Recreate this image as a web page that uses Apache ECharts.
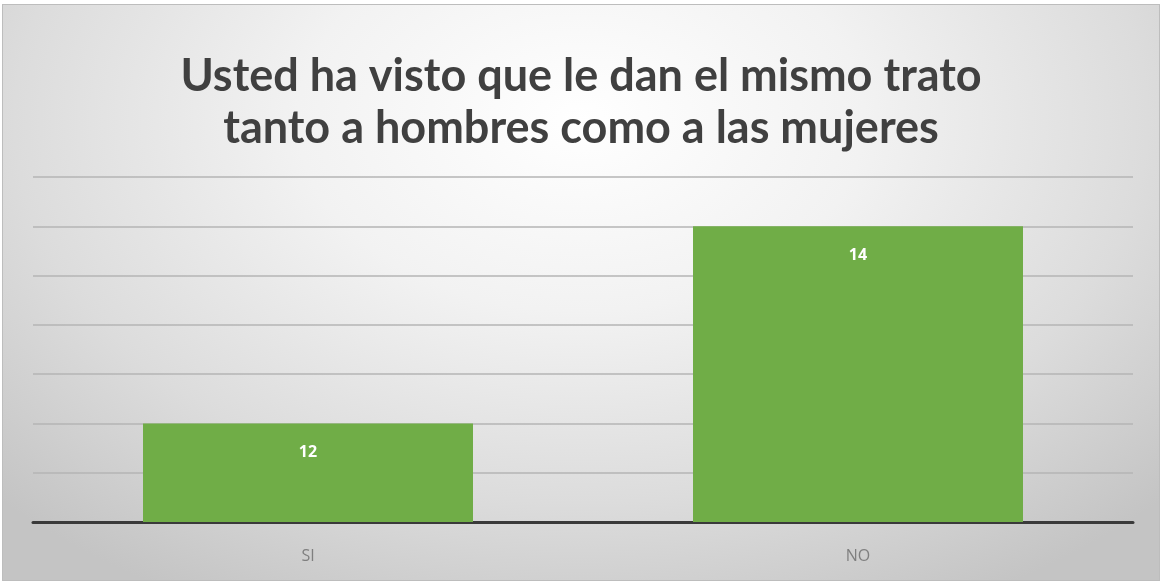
<!DOCTYPE html>
<html><head><meta charset="utf-8">
<script src="https://cdn.jsdelivr.net/npm/echarts@6/dist/echarts.min.js"></script>
<style>
html,body{margin:0;padding:0;width:1162px;height:582px;overflow:hidden;background:#fff;}
#c{position:absolute;left:2px;top:4px;width:1156px;height:575px;border:1px solid #bdbdbd;
background:radial-gradient(ellipse 70% 95% at 50% 20%, #ffffff 0%, #f2f2f2 35%, #dcdcdc 70%, #c4c4c4 100%);}
</style></head><body>
<div id="c"></div>
<script>
const titleText = 'Usted ha visto que le dan el mismo trato\ntanto a hombres como a las mujeres';
const categories = ['SI', 'NO'];
const values = [12, 14];
const yMin = 11, yMax = 14.5, yStep = 0.5;

const chart = echarts.init(document.getElementById('c'));
chart.setOption({
  backgroundColor: 'transparent',
  animation: false,
  title: {
    text: titleText, left: 'center', top: 40,
    textStyle: {fontFamily: 'Lato', fontWeight: 'bold', fontSize: 45, color: '#404040', lineHeight: 52}
  },
  grid: {left: 30, right: 26, top: 172, bottom: 58},
  xAxis: {
    type: 'category', data: categories,
    axisLine: {lineStyle: {color: '#3a3a3a', width: 3}},
    axisTick: {show: false},
    axisLabel: {color: '#7f7f7f', fontFamily: 'Open Sans', fontSize: 16, margin: 26}
  },
  yAxis: {
    type: 'value', min: yMin, max: yMax, interval: yStep,
    axisLabel: {show: false}, axisLine: {show: false}, axisTick: {show: false},
    splitLine: {lineStyle: {color: '#b4b4b4', width: 1.5}}
  },
  series: [{
    type: 'bar', data: values, barWidth: '60%',
    itemStyle: {color: '#70ad47'},
    label: {show: true, position: 'insideTop', distance: 21, color: '#ffffff',
      fontFamily: 'Open Sans', fontWeight: 'bold', fontSize: 16}
  }]
});
</script></body></html>
